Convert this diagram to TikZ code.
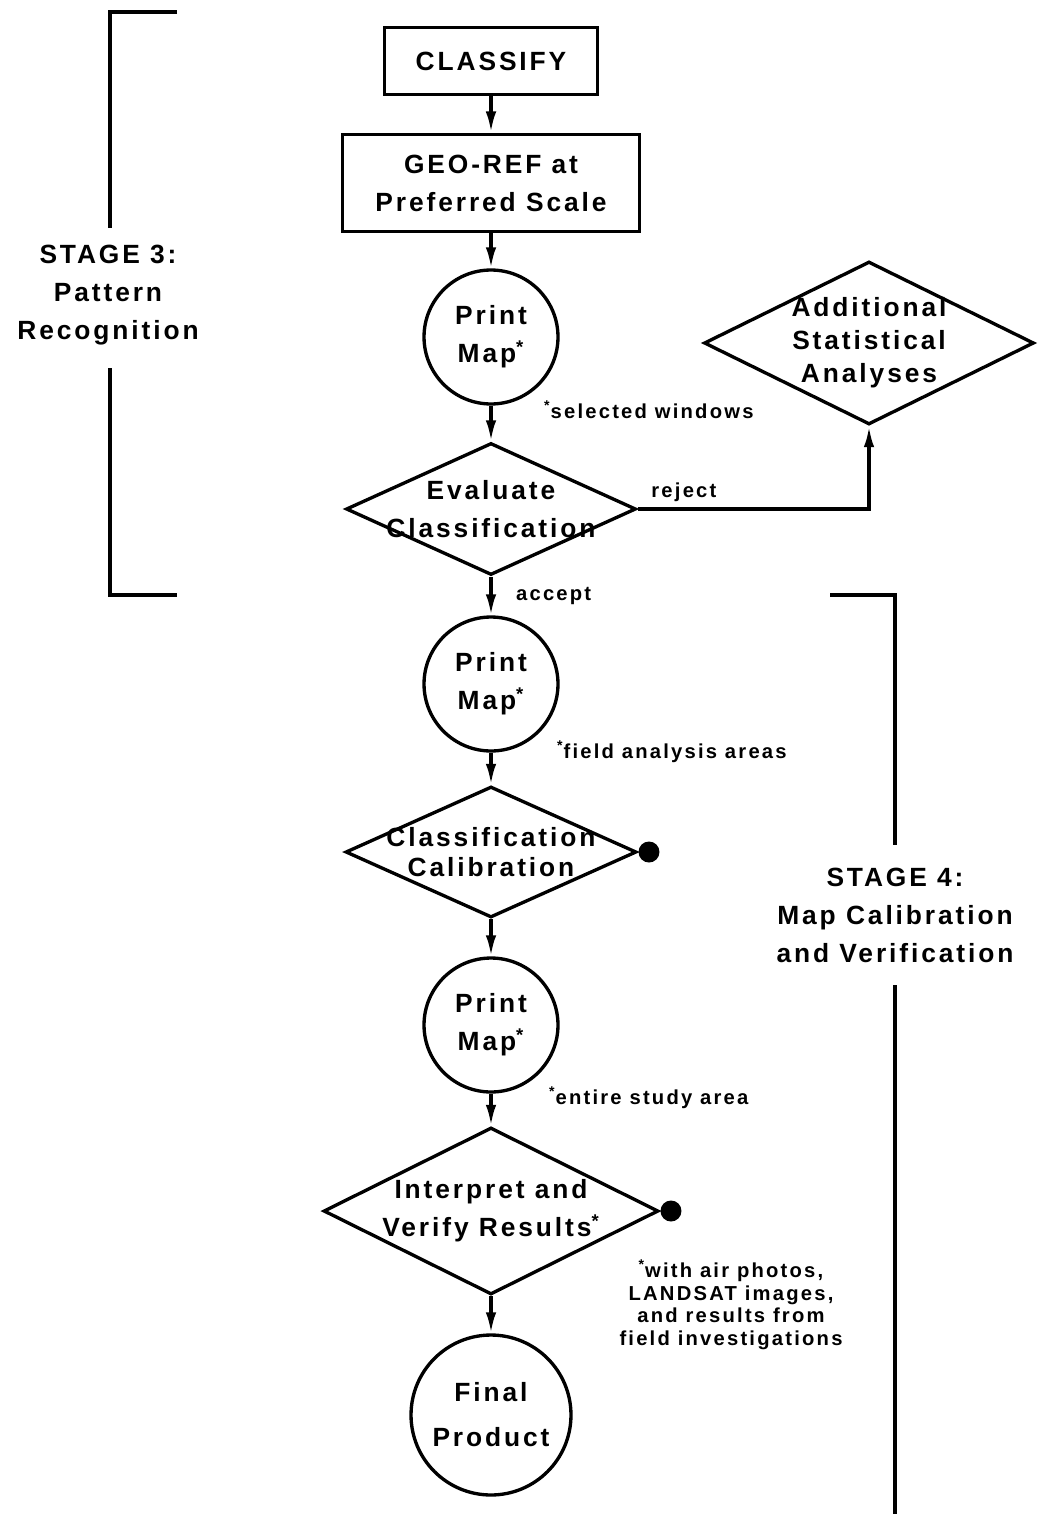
\documentclass[tikz,border=0pt]{standalone}
\usepackage{fontspec}
\usetikzlibrary{shapes.geometric,arrows.meta,positioning}
\newfontfamily\flowfont[LetterSpace=11]{Liberation Sans}
\newcommand{\flowtext}{\flowfont\bfseries\fontsize{15}{21.6}\selectfont}
\newcommand{\notetext}{\flowfont\bfseries\fontsize{11.5}{13}\selectfont}
\newcommand{\fn}{\textsuperscript{*}}

\begin{document}
\begin{tikzpicture}[x=0.02cm,y=-0.02cm,
  every node/.style={font=\flowtext, align=center},
  process/.style={draw, rectangle, line width=2.2pt, inner sep=0pt},
  printmap/.style={draw, circle, line width=1.9pt, inner sep=0pt, minimum size=2.68cm},
  decision/.style={draw, diamond, line width=1.9pt, inner sep=-10pt, aspect=2.2},
  flow/.style={line width=1.9pt, -{Latex[length=12pt,width=6pt]}},
  bracket/.style={line width=2.2pt},
  note/.style={font=\notetext},
  dot/.style={fill, circle, inner sep=0pt, minimum size=0.42cm}]
\useasboundingbox (0,0) rectangle (1038,1514);

% main column
\node[process, minimum width=4.26cm, minimum height=1.34cm] (classify) at (491,61) {CLASSIFY};
\node[process, minimum width=5.94cm, minimum height=1.94cm] (georef) at (491,183) {GEO-REF at\\Preferred Scale};
\node[printmap] (map1) at (491,337) {Print\\Map\fn};
\node[decision, minimum width=5.8cm, minimum height=2.64cm] (evaluate) at (491,509) {Evaluate\\Classification};
\node[printmap] (map2) at (491,684) {Print\\Map\fn};
\node[decision, minimum width=5.82cm, minimum height=2.62cm] (calib) at (491,852) {Classification\\[-4.6pt]Calibration};
\node[printmap] (map3) at (491,1025) {Print\\Map\fn};
\node[decision, minimum width=6.7cm, minimum height=3.34cm] (interpret) at (491,1211) {Interpret and\\Verify Results\fn};
\node[printmap, minimum size=3.2cm] (final) at (491,1415) {Final\\[4pt]Product};

% side branch
\node[decision, minimum width=6.6cm, minimum height=3.26cm] (stats) at (869,343) {Additional\\[-2.8pt]Statistical\\[-2.8pt]Analyses};

% end dots
\node[dot, right=0pt of calib.east] (calibdot) {};
\node[dot, right=0pt of interpret.east] (interpdot) {};

% footnotes
\node[note, anchor=west] (note1) at (538,410) {\fn selected windows};
\node[note, anchor=west] (note2) at (551,752) {\fn field analysis areas};
\node[note, anchor=west] (note3) at (543,1098) {\fn entire study area};
\node[note] (note4) at (731,1305) {\fn with air photos,\\LANDSAT images,\\and results from\\field investigations};

% stages
\node (stage3) at (108,295) {STAGE 3:\\Pattern\\Recognition};
\node (stage4) at (895,915) {STAGE 4:\\Map Calibration\\and Verification};
\draw[bracket] (177,12) -| (110,228);
\draw[bracket] (110,368) |- (177,595);
\draw[bracket] (830,595) -| (895,845);
\draw[bracket] (895,985) -- (895,1514);

% connectors
\foreach \a/\b in {classify/georef, georef/map1, map1/evaluate, map2/calib, calib/map3, map3/interpret, interpret/final}
  \draw[flow] (\a.south) -- (\b.north);
\draw[flow] (evaluate.south) -- node[note, right=10pt] {accept} (map2.north);
\draw[flow] (evaluate.east) -| node[note, pos=0.1, above] {reject} (stats.south);
\end{tikzpicture}
\end{document}
